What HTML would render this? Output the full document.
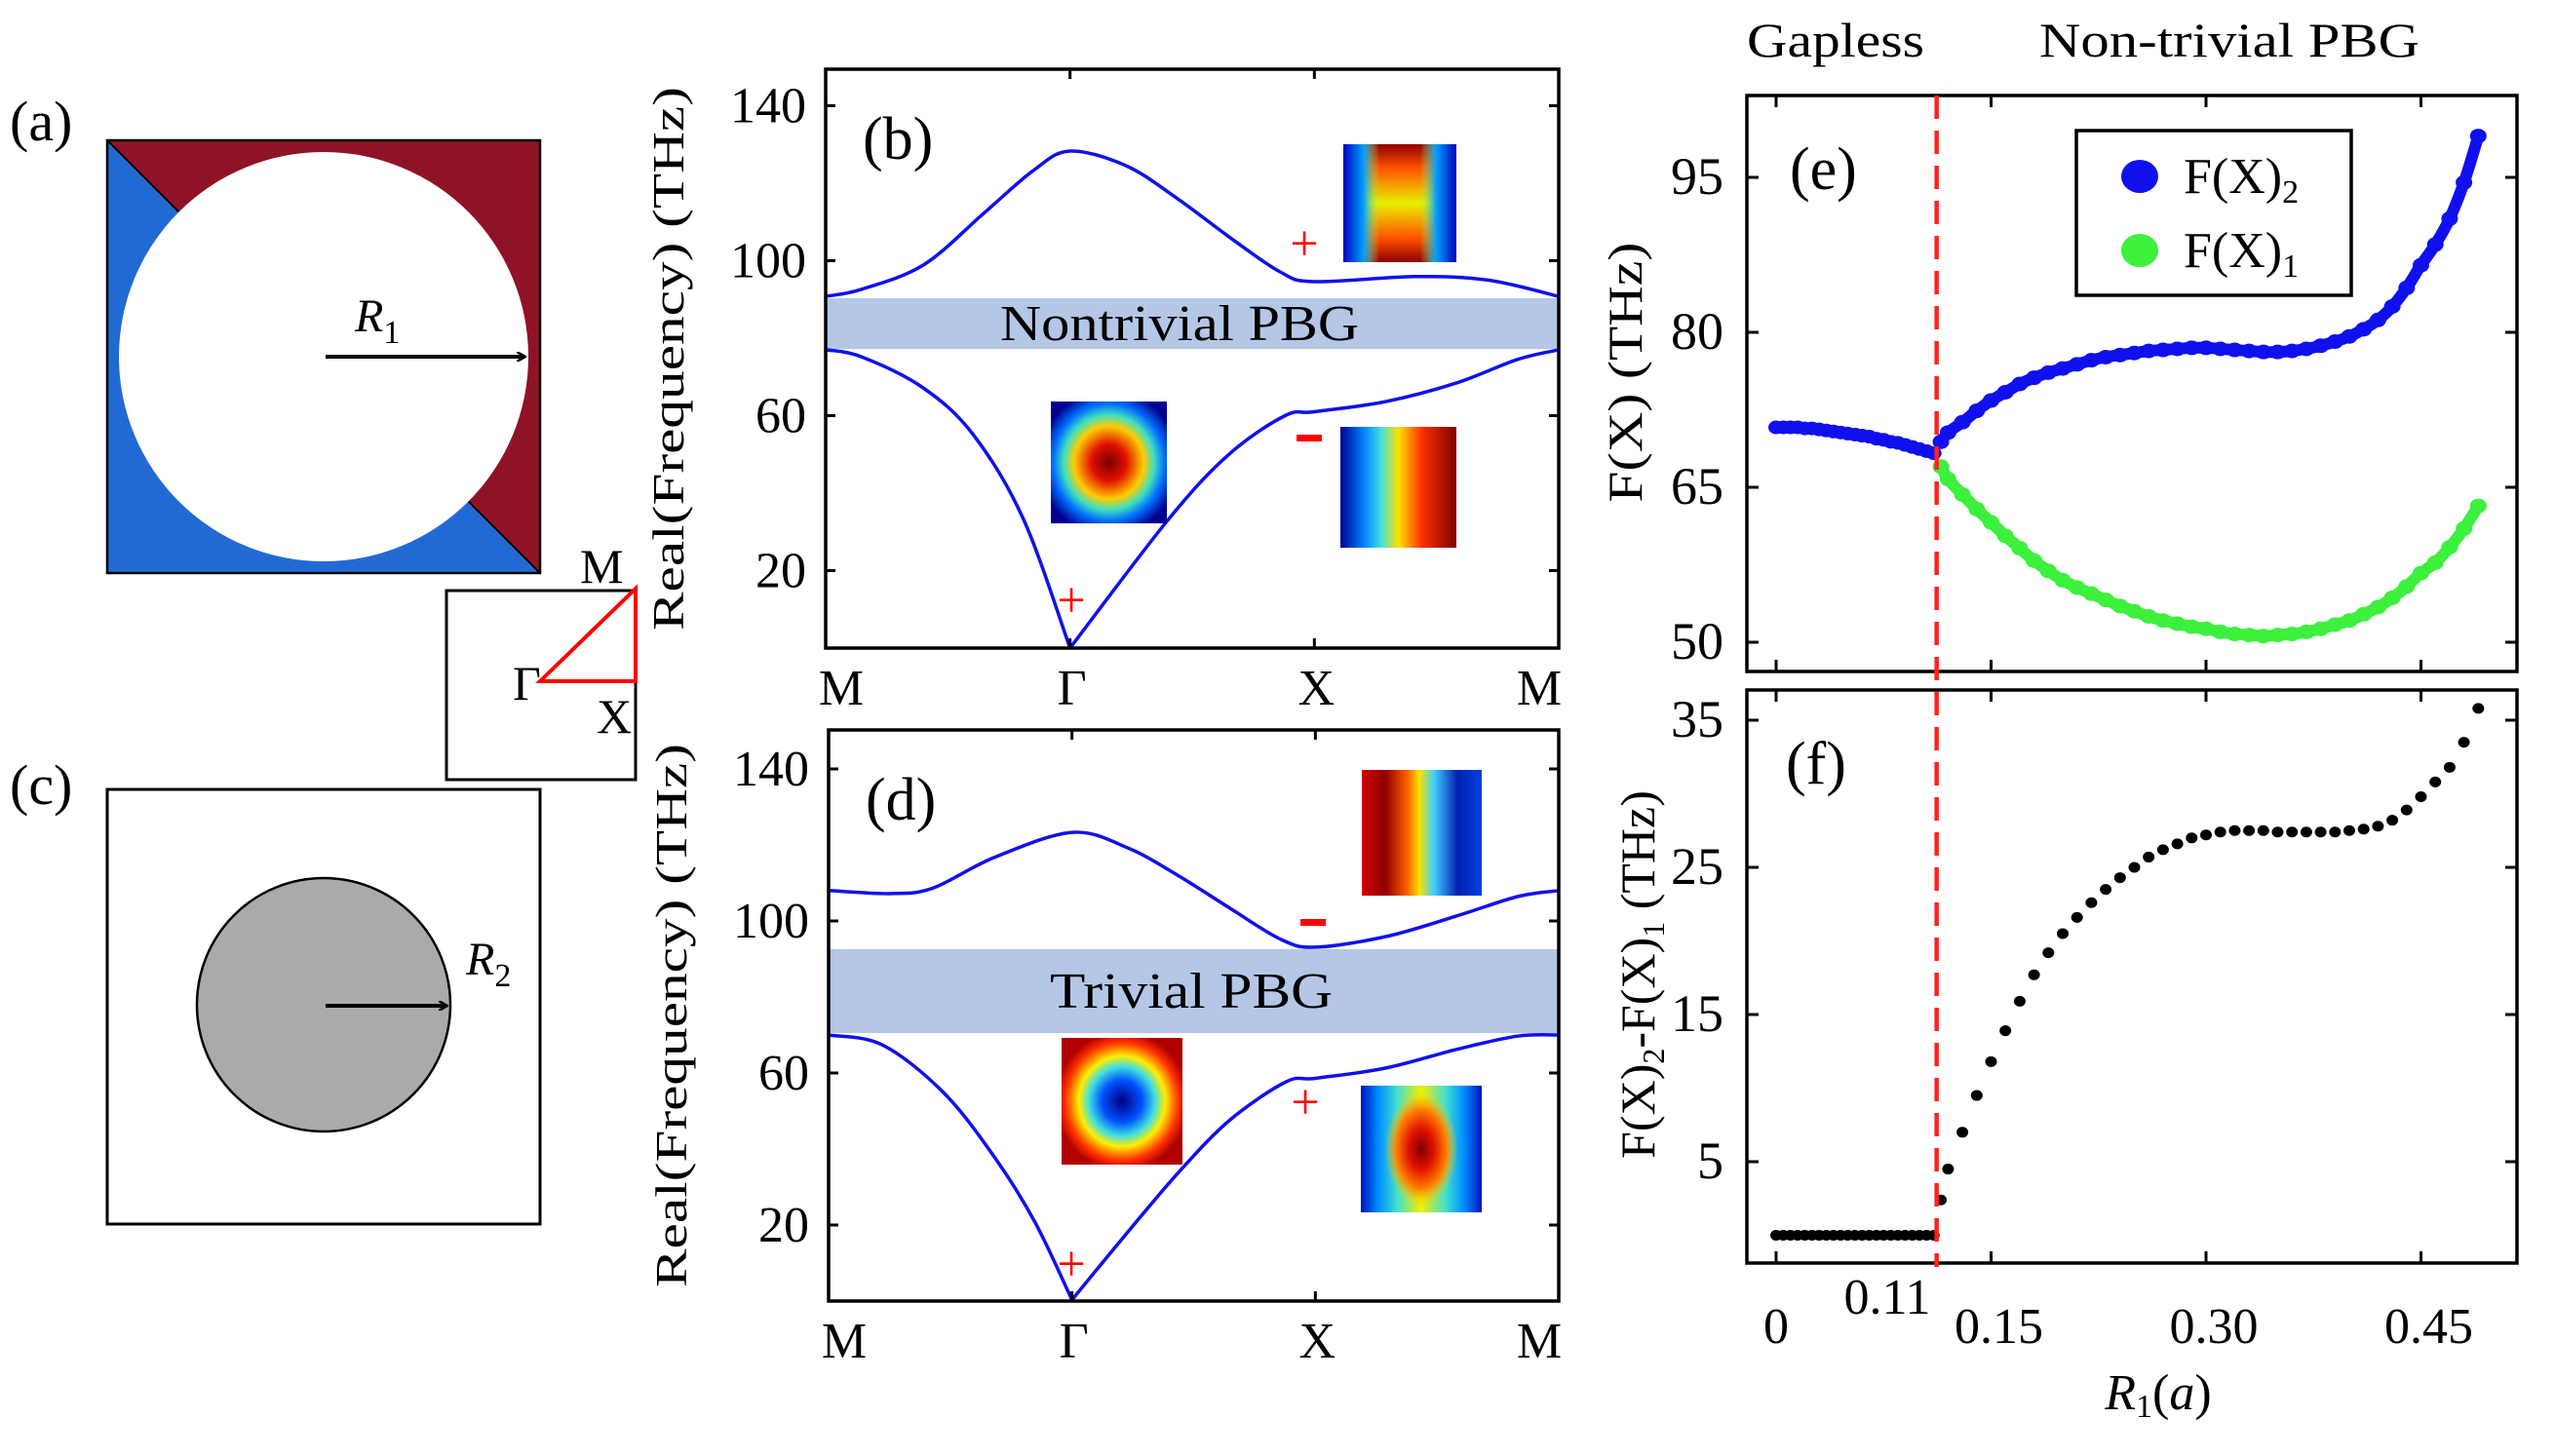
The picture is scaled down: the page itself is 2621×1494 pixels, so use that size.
<!DOCTYPE html>
<html><head><meta charset="utf-8"><style>
html,body{margin:0;padding:0;background:#fff;}
svg{display:block;font-family:"Liberation Serif",serif;}
text{font-family:"Liberation Serif",serif;}
</style></head><body>
<svg id="fig" width="2621" height="1494" viewBox="0 0 2621 1494" xmlns="http://www.w3.org/2000/svg" font-family="Liberation Serif, serif">
<defs>
  <radialGradient id="gDiamond" cx="50%" cy="50%" r="60%">
    <stop offset="0" stop-color="#7a0000"/><stop offset="0.25" stop-color="#e01000"/>
    <stop offset="0.5" stop-color="#ffcc00"/><stop offset="0.65" stop-color="#40e0c0"/>
    <stop offset="0.8" stop-color="#0070ff"/><stop offset="1" stop-color="#000090"/>
  </radialGradient>
  <radialGradient id="gBlueCenter" cx="50%" cy="50%" r="55%">
    <stop offset="0" stop-color="#000080"/><stop offset="0.3" stop-color="#0050ff"/>
    <stop offset="0.5" stop-color="#40e0e0"/><stop offset="0.65" stop-color="#ffee00"/>
    <stop offset="0.85" stop-color="#ff3000"/><stop offset="1" stop-color="#b00000"/>
  </radialGradient>
  <linearGradient id="gLR" x1="0" x2="1" y1="0" y2="0">
    <stop offset="0" stop-color="#000090"/><stop offset="0.2" stop-color="#0080ff"/>
    <stop offset="0.35" stop-color="#40e0e0"/><stop offset="0.5" stop-color="#ffe000"/>
    <stop offset="0.7" stop-color="#ff3000"/><stop offset="1" stop-color="#800000"/>
  </linearGradient>
  <linearGradient id="gRL" x1="0" x2="1" y1="0" y2="0">
    <stop offset="0" stop-color="#d00000"/><stop offset="0.2" stop-color="#900000"/>
    <stop offset="0.38" stop-color="#ff6000"/><stop offset="0.48" stop-color="#ffe000"/>
    <stop offset="0.6" stop-color="#40d0ff"/><stop offset="0.8" stop-color="#0020b0"/>
    <stop offset="1" stop-color="#0040e0"/>
  </linearGradient>
  <linearGradient id="gSides" x1="0" x2="1" y1="0" y2="0">
    <stop offset="0" stop-color="#0000c0"/><stop offset="0.18" stop-color="#00a0ff"/>
    <stop offset="0.32" stop-color="#a0ff60" stop-opacity="0"/><stop offset="0.68" stop-color="#a0ff60" stop-opacity="0"/>
    <stop offset="0.82" stop-color="#00a0ff"/><stop offset="1" stop-color="#0000c0"/>
  </linearGradient>
  <linearGradient id="gSidesSolid" x1="0" x2="1" y1="0" y2="0">
    <stop offset="0" stop-color="#0010c0"/><stop offset="0.15" stop-color="#0090ff"/>
    <stop offset="0.3" stop-color="#40e0d0"/><stop offset="0.5" stop-color="#f0f000"/>
    <stop offset="0.7" stop-color="#40e0d0"/><stop offset="0.85" stop-color="#0090ff"/>
    <stop offset="1" stop-color="#0010c0"/>
  </linearGradient>
  <linearGradient id="gTB" x1="0" x2="0" y1="0" y2="1">
    <stop offset="0" stop-color="#900000"/><stop offset="0.2" stop-color="#ff5000"/>
    <stop offset="0.5" stop-color="#e8f000"/><stop offset="0.8" stop-color="#ff5000"/>
    <stop offset="1" stop-color="#900000"/>
  </linearGradient>
  <radialGradient id="gRedEllipse" cx="50%" cy="50%" r="50%">
    <stop offset="0" stop-color="#800000"/><stop offset="0.35" stop-color="#e01000"/>
    <stop offset="0.7" stop-color="#ff8000"/><stop offset="1" stop-color="#ffd000" stop-opacity="0"/>
  </radialGradient>
  <marker id="arr" markerWidth="10" markerHeight="10" refX="8" refY="5" orient="auto" markerUnits="userSpaceOnUse">
    <path d="M0,0 L9,5 L0,10" fill="none" stroke="#000" stroke-width="2.5"/>
  </marker>
</defs>

<!-- Panel a -->
<text x="10" y="144" font-size="58">(a)</text>
<g>
  <rect x="110" y="144" width="444" height="444" fill="#226ad3"/>
  <polygon points="110,144 554,144 554,588" fill="#8f1326"/>
  <line x1="110" y1="144" x2="554" y2="588" stroke="#000" stroke-width="2"/>
  <circle cx="332" cy="366" r="210" fill="#fff"/>
  <rect x="110" y="144" width="444" height="444" fill="none" stroke="#000" stroke-width="2.5"/>
  <line x1="334" y1="366" x2="538" y2="366" stroke="#000" stroke-width="4" marker-end="url(#arr)"/>
  <text x="364" y="340" font-size="48" font-style="italic">R<tspan font-size="34" font-style="normal" dy="12">1</tspan></text>
</g>

<!-- Brillouin zone inset -->
<g>
  <rect x="458" y="606" width="194" height="194" fill="none" stroke="#000" stroke-width="3"/>
  <polygon points="554,699 652,604 652,699" fill="none" stroke="#f00" stroke-width="4"/>
  <text x="595" y="598" font-size="50">M</text>
  <text x="526" y="718" font-size="50">Γ</text>
  <text x="612" y="752" font-size="50">X</text>
</g>

<!-- Panel c -->
<text x="10" y="825" font-size="58">(c)</text>
<g>
  <rect x="110" y="810" width="444" height="446" fill="#fff" stroke="#000" stroke-width="3"/>
  <circle cx="332" cy="1031" r="130" fill="#aaa" stroke="#000" stroke-width="2.5"/>
  <line x1="334" y1="1032" x2="458" y2="1032" stroke="#000" stroke-width="4" marker-end="url(#arr)"/>
  <text x="478" y="1000" font-size="48" font-style="italic">R<tspan font-size="34" font-style="normal" dy="12">2</tspan></text>
</g>

<g id="panelB"></g>
<g id="panelD"></g>
<g id="panelE"></g>
<g id="panelF"></g>
</svg>

<script>
// ---- band structure data (k in units of path segment: M=0, Γ=1, X=2, M=3) ----
const bLowerK = [0, 0.146, 0.396, 0.604, 0.81, 1, 1.4, 1.65, 1.88, 2, 2.29, 2.58, 2.83, 3];
const bLowerF = [77, 75.2, 67.3, 55.1, 33.2, 0, 33, 50, 60, 61, 63.6, 68.4, 74.5, 77];
const bUpperK = [0, 0.146, 0.4, 0.65, 0.85, 1, 1.23, 1.44, 1.65, 1.86, 2, 2.41, 2.71, 3];
const bUpperF = [90.8, 92.6, 98.9, 112.4, 123.3, 128.3, 124.5, 116, 106.2, 97.1, 94.6, 95.9, 95, 90.8];
const bGap = [77.2, 90.3];
const dLowerK = [0, 0.22, 0.47, 0.68, 0.85, 1, 1.23, 1.44, 1.65, 1.88, 2, 2.29, 2.58, 2.83, 3];
const dLowerF = [70, 67.4, 55, 38, 20.5, 0.3, 18.2, 34, 47.7, 57.7, 58.6, 61.3, 66.2, 69.7, 70];
const dUpperK = [0, 0.26, 0.43, 0.68, 1, 1.23, 1.44, 1.65, 1.86, 2, 2.29, 2.58, 2.83, 3];
const dUpperF = [108, 107.2, 108.7, 116.7, 123.3, 119.2, 111.8, 103.3, 95.1, 93.1, 95.9, 101.3, 106.4, 108];
const dGap = [70.5, 92.6];
const bandYTicks = [20, 60, 100, 140];
const kLabels = ["M", "Γ", "X", "M"];

// ---- panel e/f data ----
const rGapless = [0, 0.005, 0.01, 0.015, 0.02, 0.025, 0.03, 0.035, 0.04, 0.045, 0.05, 0.055, 0.06, 0.065, 0.07, 0.075, 0.08, 0.085, 0.09, 0.095, 0.10, 0.105, 0.11];
const f2Gapless = [70.8, 70.8, 70.8, 70.8, 70.7, 70.7, 70.6, 70.5, 70.4, 70.3, 70.2, 70.1, 70.0, 69.9, 69.7, 69.6, 69.4, 69.3, 69.1, 68.9, 68.7, 68.5, 68.3];
const rOpen = [0.115, 0.12, 0.13, 0.14, 0.15, 0.16, 0.17, 0.18, 0.19, 0.20, 0.21, 0.22, 0.23, 0.24, 0.25, 0.26, 0.27, 0.28, 0.29, 0.30, 0.31, 0.32, 0.33, 0.34, 0.35, 0.36, 0.37, 0.38, 0.39, 0.40, 0.41, 0.42, 0.43, 0.44, 0.45, 0.46, 0.47, 0.48, 0.49];
const f2Open = [69.4, 70.3, 71.3, 72.4, 73.4, 74.2, 75.0, 75.6, 76.1, 76.5, 76.9, 77.3, 77.6, 77.8, 78.0, 78.2, 78.3, 78.4, 78.5, 78.5, 78.4, 78.3, 78.2, 78.1, 78.1, 78.2, 78.4, 78.7, 79.1, 79.6, 80.3, 81.2, 82.5, 84.3, 86.5, 88.5, 91.0, 94.5, 99.0];
const f1Open = [67.0, 65.8, 64.3, 62.9, 61.6, 60.3, 59.1, 57.9, 56.9, 56.0, 55.3, 54.7, 54.1, 53.5, 53.0, 52.5, 52.1, 51.8, 51.5, 51.3, 51.0, 50.8, 50.7, 50.6, 50.7, 50.8, 51.0, 51.3, 51.7, 52.1, 52.7, 53.4, 54.3, 55.4, 56.7, 57.7, 59.2, 61.0, 63.2];
const eYTicks = [50, 65, 80, 95];
const fYTicks = [5, 15, 25, 35];
const rTicks = [0, 0.15, 0.30, 0.45];
const rTickLabels = ["0", "0.15", "0.30", "0.45"];
const rCritical = 0.112;

const NS = "http://www.w3.org/2000/svg";
function mk(parent, tag, attrs, text) {
  const el = document.createElementNS(NS, tag);
  for (const k in attrs) el.setAttribute(k, attrs[k]);
  if (text !== undefined) el.textContent = text;
  parent.appendChild(el);
  return el;
}
function smoothPath(pts) {
  let d = "M" + pts[0][0].toFixed(1) + "," + pts[0][1].toFixed(1);
  for (let i = 0; i < pts.length - 1; i++) {
    const p0 = pts[Math.max(0, i - 1)], p1 = pts[i], p2 = pts[i + 1], p3 = pts[Math.min(pts.length - 1, i + 2)];
    const c1x = p1[0] + (p2[0] - p0[0]) / 6, c1y = p1[1] + (p2[1] - p0[1]) / 6;
    const c2x = p2[0] - (p3[0] - p1[0]) / 6, c2y = p2[1] - (p3[1] - p1[1]) / 6;
    d += " C" + c1x.toFixed(1) + "," + c1y.toFixed(1) + " " + c2x.toFixed(1) + "," + c2y.toFixed(1) + " " + p2[0].toFixed(1) + "," + p2[1].toFixed(1);
  }
  return d;
}

function bandPanel(g, cfg) {
  const x = k => cfg.x0 + k * (cfg.x1 - cfg.x0) / 3;
  const y = f => cfg.y1 - f * cfg.py;
  const gap = mk(g, "rect", {x: cfg.x0, y: y(cfg.gap[1]), width: cfg.x1 - cfg.x0, height: y(cfg.gap[0]) - y(cfg.gap[1]), fill: "#b4c7e7"});
  
  
  const gt = mk(g, "text", {x: cfg.gapTextX, y: (y(cfg.gap[0]) + y(cfg.gap[1])) / 2 + 17, "font-size": 52, "text-anchor": "middle", textLength: cfg.gapTextLen, lengthAdjust: "spacingAndGlyphs"}, cfg.gapText);
  
  
  // lower band: split at Γ (cusp)
  const lp = cfg.lk.map((k, i) => [x(k), y(cfg.lf[i])]);
  const gi = cfg.lk.indexOf(1);
  const dl = smoothPath(lp.slice(0, gi + 1)) + " " + smoothPath(lp.slice(gi));
  const pl1 = mk(g, "path", {d: dl, fill: "none", stroke: "#1010ee", "stroke-width": 3.5, "stroke-linejoin": "round"});
  
  
  const up = cfg.uk.map((k, i) => [x(k), y(cfg.uf[i])]);
  const pl2 = mk(g, "path", {d: smoothPath(up), fill: "none", stroke: "#1010ee", "stroke-width": 3.5, "stroke-linejoin": "round"});
  
  
  const fr = mk(g, "rect", {x: cfg.x0, y: cfg.y0, width: cfg.x1 - cfg.x0, height: cfg.y1 - cfg.y0, fill: "none", stroke: "#000", "stroke-width": 3.5});
  
  
  bandYTicks.forEach(t => {
    mk(g, "line", {x1: cfg.x0, x2: cfg.x0 + 10, y1: y(t), y2: y(t), stroke: "#000", "stroke-width": 3});
    mk(g, "line", {x1: cfg.x1 - 10, x2: cfg.x1, y1: y(t), y2: y(t), stroke: "#000", "stroke-width": 3});
    const tl = mk(g, "text", {x: cfg.x0 - 20, y: y(t) + 17, "font-size": 52, "text-anchor": "end"}, String(t));
    
    
  });
  kLabels.forEach((lab, i) => {
    if (i > 0 && i < 3) {
      mk(g, "line", {x1: x(i), x2: x(i), y1: cfg.y0, y2: cfg.y0 + 10, stroke: "#000", "stroke-width": 3});
      mk(g, "line", {x1: x(i), x2: x(i), y1: cfg.y1 - 10, y2: cfg.y1, stroke: "#000", "stroke-width": 3});
    }
    const xl = mk(g, "text", {x: x(i) + (i === 0 ? 16 : i === 3 ? -20 : 2), y: cfg.y1 + 58, "font-size": 52, "text-anchor": "middle"}, lab);
    
    
  });
  const yl = mk(g, "text", {x: 0, y: 0, "font-size": 46, "text-anchor": "middle", transform: `translate(${cfg.x0 - 146},${(cfg.y0 + cfg.y1) / 2}) rotate(-90)`, textLength: 558, lengthAdjust: "spacingAndGlyphs"}, "Real(Frequency) (THz)");
  
  
  const pl = mk(g, "text", {x: cfg.x0 + 38, y: cfg.y0 + 92, "font-size": 62}, cfg.label);
  
  
}

function inset(g, x, y, w, h, fills, name) {
  fills.forEach(f => {
    const r = mk(g, f[0], Object.assign(f[0] === "rect" ? {x: x, y: y, width: w, height: h} : {cx: x + w / 2, cy: y + h / 2, rx: w * f[2], ry: h * f[3]}, {fill: f[1]}));
    
    
  });
}
function sign(g, x, y, s) {
  if (s === "+") {
    const t = mk(g, "text", {x: x, y: y + 16, "font-size": 52, fill: "#f00", "text-anchor": "middle"}, "+");
    
    
  } else {
    const t = mk(g, "rect", {x: x - 13, y: y - 3, width: 26, height: 7, fill: "#f00"});
    
    
  }
}

const gB = document.getElementById("panelB");
bandPanel(gB, {x0: 847, x1: 1599, y0: 71, y1: 665, py: 3.975, gap: bGap, gapText: "Nontrivial PBG", gapTextX: 1210, gapTextLen: 368, lk: bLowerK, lf: bLowerF, uk: bUpperK, uf: bUpperF, label: "(b)"});
inset(gB, 1378, 148, 116, 121, [["rect", "url(#gTB)"], ["rect", "url(#gSides)"]], "field-inset");
inset(gB, 1078, 412, 119, 125, [["rect", "url(#gDiamond)"]], "field-inset");
inset(gB, 1375, 438, 119, 124, [["rect", "url(#gLR)"]], "field-inset");
sign(gB, 1338, 251, "+"); sign(gB, 1343, 449, "-"); sign(gB, 1099, 617, "+");

const gD = document.getElementById("panelD");
bandPanel(gD, {x0: 850, x1: 1599, y0: 749, y1: 1335, py: 3.9, gap: dGap, gapText: "Trivial PBG", gapTextX: 1222, gapTextLen: 290, lk: dLowerK, lf: dLowerF, uk: dUpperK, uf: dUpperF, label: "(d)"});
inset(gD, 1397, 790, 123, 129, [["rect", "url(#gRL)"]], "field-inset");
inset(gD, 1089, 1065, 124, 130, [["rect", "url(#gBlueCenter)"]], "field-inset");
inset(gD, 1396, 1114, 124, 130, [["rect", "url(#gSidesSolid)"], ["ellipse", "url(#gRedEllipse)", 0.3, 0.45]], "field-inset");
sign(gD, 1347, 946, "-"); sign(gD, 1339, 1132, "+"); sign(gD, 1099, 1298, "+");

// ---- panels e and f ----
const xE = r => 1822 + r * 1470;
const yE = v => 659 - (v - 50) * 10.6;
const yF = v => 1192 - (v - 5) * 15.1;
const gE = document.getElementById("panelE");
const gF = document.getElementById("panelF");

function frameEF(g, y0, y1, ticks, yfn) {
  const fr = mk(g, "rect", {x: 1792, y: y0, width: 790, height: y1 - y0, fill: "none", stroke: "#000", "stroke-width": 3.5});
  
  
  ticks.forEach(t => {
    mk(g, "line", {x1: 1792, x2: 1804, y1: yfn(t), y2: yfn(t), stroke: "#000", "stroke-width": 3});
    mk(g, "line", {x1: 2570, x2: 2582, y1: yfn(t), y2: yfn(t), stroke: "#000", "stroke-width": 3});
    const tl = mk(g, "text", {x: 1768, y: yfn(t) + 17, "font-size": 54, "text-anchor": "end"}, String(t));
    
    
  });
  rTicks.forEach(r => {
    mk(g, "line", {x1: xE(r), x2: xE(r), y1: y0, y2: y0 + 12, stroke: "#000", "stroke-width": 3});
    mk(g, "line", {x1: xE(r), x2: xE(r), y1: y1 - 12, y2: y1, stroke: "#000", "stroke-width": 3});
  });
}
frameEF(gE, 98, 689, eYTicks, yE);
frameEF(gF, 708, 1296, fYTicks, yF);

function dot(g, cx, cy, rx, ry, fill, name) {
  const c = mk(g, "ellipse", {cx: cx, cy: cy, rx: rx, ry: ry, fill: fill});
  
  
}
// connecting smooth trace under the dots (approximates dense sampling of reference)
function trace(g, xs, ys, w, color, name) {
  const p = mk(g, "path", {d: smoothPath(xs.map((xv, i) => [xv, ys[i]])), fill: "none", stroke: color, "stroke-width": w, "stroke-linecap": "round"});
  
  
}
trace(gE, rGapless.map(xE), f2Gapless.map(yE), 12, "#1010ee", "trace-f2-gapless");
trace(gE, rOpen.map(xE), f2Open.map(yE), 12, "#1010ee", "trace-f2");
trace(gE, rOpen.map(xE), f1Open.map(yE), 12, "#3cf03c", "trace-f1");
trace(gF, rGapless.map(xE), rGapless.map(() => yF(0)), 9, "#000", "trace-gap-zero");
rGapless.forEach((r, i) => dot(gE, xE(r), yE(f2Gapless[i]), 8, 7, "#1010ee", "point-f2"));
rOpen.forEach((r, i) => dot(gE, xE(r), yE(f2Open[i]), 8.5, 7.5, "#1010ee", "point-f2"));
rOpen.forEach((r, i) => dot(gE, xE(r), yE(f1Open[i]), 8.5, 7.5, "#3cf03c", "point-f1"));
rGapless.forEach((r, i) => dot(gF, xE(r), yF(0), 6, 5.5, "#000", "point-gap-width"));
rOpen.forEach((r, i) => dot(gF, xE(r), yF(f2Open[i] - f1Open[i]), 6, 5.5, "#000", "point-gap-width"));

const dl = mk(document.getElementById("fig"), "line", {x1: xE(rCritical), x2: xE(rCritical), y1: 98, y2: 1300, stroke: "#f22", "stroke-width": 4.5, "stroke-dasharray": "24,12"});



rTicks.forEach((r, i) => {
  const t = mk(gF, "text", {x: xE(r) + (i === 0 ? 0 : 8), y: 1378, "font-size": 52, "text-anchor": "middle"}, rTickLabels[i]);
  
  
});
const t011 = mk(gF, "text", {x: 1936, y: 1348, "font-size": 52, "text-anchor": "middle"}, "0.11");


</script>

<script>
const fig = document.getElementById("fig");
function addText(attrs, content, name) {
  const el = document.createElementNS("http://www.w3.org/2000/svg", "text");
  for (const k in attrs) el.setAttribute(k, attrs[k]);
  if (content) el.textContent = content;
  
  
  fig.appendChild(el);
  return el;
}
addText({x: 1883, y: 58, "font-size": 50, "text-anchor": "middle", textLength: 182, lengthAdjust: "spacingAndGlyphs"}, "Gapless", "region-label-gapless");
addText({x: 2287, y: 58, "font-size": 50, "text-anchor": "middle", textLength: 390, lengthAdjust: "spacingAndGlyphs"}, "Non-trivial PBG", "region-label-nontrivial");
addText({x: 1836, y: 194, "font-size": 62}, "(e)", "panel-label-e");
addText({x: 1832, y: 804, "font-size": 62}, "(f)", "panel-label-f");
addText({x: 0, y: 0, "font-size": 50, "text-anchor": "middle", transform: "translate(1684,382) rotate(-90)", textLength: 267, lengthAdjust: "spacingAndGlyphs"}, "F(X) (THz)", "y-axis-title-e");
const fl = addText({x: 0, y: 0, "font-size": 50, "text-anchor": "middle", transform: "translate(1697,1000) rotate(-90)"}, "", "y-axis-title-f");
fl.innerHTML = 'F(X)<tspan font-size="32" dy="10">2</tspan><tspan dy="-10">-F(X)</tspan><tspan font-size="32" dy="10">1</tspan><tspan dy="-10"> (THz)</tspan>';
const xl = addText({x: 2214, y: 1446, "font-size": 52, "text-anchor": "middle"}, "", "x-axis-title");
xl.innerHTML = '<tspan font-style="italic">R</tspan><tspan font-size="34" dy="8">1</tspan><tspan dy="-8">(</tspan><tspan font-style="italic">a</tspan>)';
const lg = document.createElementNS("http://www.w3.org/2000/svg", "g");


fig.appendChild(lg);
lg.innerHTML = '<rect x="2130" y="134" width="282" height="169" fill="#fff" stroke="#000" stroke-width="3.5"/>' +
 '<ellipse cx="2195" cy="181" rx="19" ry="17" fill="#1010ee"/>' +
 '<ellipse cx="2195" cy="257" rx="19" ry="17" fill="#3cf03c"/>' +
 '<text x="2240" y="198" font-size="52">F(X)<tspan font-size="34" dy="10">2</tspan></text>' +
 '<text x="2240" y="274" font-size="52">F(X)<tspan font-size="34" dy="10">1</tspan></text>';
</script>
</body></html>
